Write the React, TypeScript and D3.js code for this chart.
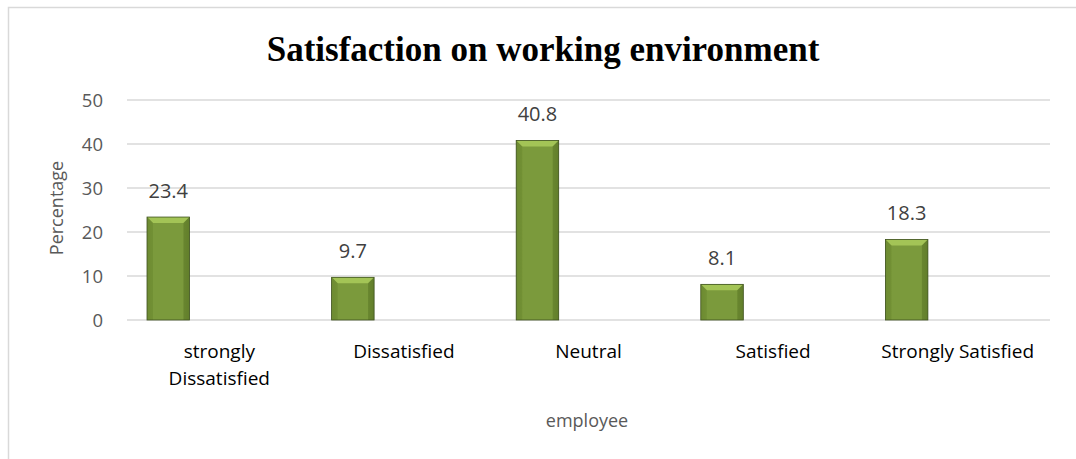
import React from "react";
import * as d3 from "d3";

const categories: string[][] = [
  ["strongly", "Dissatisfied"],
  ["Dissatisfied"],
  ["Neutral"],
  ["Satisfied"],
  ["Strongly Satisfied"],
];
const values: number[] = [23.4, 9.7, 40.8, 8.1, 18.3];
const yTicks: number[] = [0, 10, 20, 30, 40, 50];
const title = "Satisfaction on working environment";
const yTitle = "Percentage";
const xTitle = "employee";

const W = 1076;
const H = 459;
const plot = { left: 127, right: 1050, top: 100, bottom: 320 };
const FONT = "'Open Sans', Lato, sans-serif";

export default function App() {
  const x = d3
    .scaleBand<number>()
    .domain(values.map((_, i) => i))
    .range([plot.left, plot.right]);
  const y = d3.scaleLinear().domain([0, 50]).range([plot.bottom, plot.top]);
  const barW = 42.5;
  const barOff = 20;
  const bev = 6;

  return (
    <svg
      width={W}
      height={H}
      style={{ position: "absolute", left: 0, top: 0, display: "block", background: "#fff" }}
    >
      <defs>
        <linearGradient id="face" x1="0" x2="1" y1="0" y2="0">
          <stop offset="0" stopColor="#6f8c34" />
          <stop offset="0.15" stopColor="#7b9a3c" />
          <stop offset="0.85" stopColor="#7b9a3c" />
          <stop offset="1" stopColor="#6a8630" />
        </linearGradient>
      </defs>
      <rect x={8.5} y={7.5} width={W + 10} height={H + 10} fill="#fff" stroke="#d9d9d9" strokeWidth={1.5} />
      <text
        x={543}
        y={61}
        textAnchor="middle"
        fontFamily="'Liberation Serif', 'Times New Roman', serif"
        fontWeight="bold"
        fontSize={35}
        fill="#000"
      >
        {title}
      </text>
      {yTicks.map((t) => (
        <g key={t}>
          <line x1={plot.left} x2={plot.right} y1={y(t)} y2={y(t)} stroke="#d9d9d9" strokeWidth={1.5} />
          <text x={103} y={y(t) + 7} textAnchor="end" fontFamily={FONT} fontSize={18.5} fill="#595959">
            {t}
          </text>
        </g>
      ))}
      <text
        transform={`translate(63,208) rotate(-90)`}
        textAnchor="middle"
        fontFamily={FONT}
        fontSize={18}
        fill="#595959"
      >
        {yTitle}
      </text>
      {values.map((v, i) => {
        const x0 = (x(i) as number) + barOff;
        const x1 = x0 + barW;
        const yt = y(v);
        const yb = y(0);
        return (
          <g key={i}>
            <rect x={x0} y={yt} width={barW} height={yb - yt} fill="url(#face)" />
            <polygon
              points={`${x0},${yt} ${x1},${yt} ${x1 - bev},${yt + bev} ${x0 + bev},${yt + bev}`}
              fill="#a3c456"
            />
            <polygon
              points={`${x0},${yt} ${x0 + bev},${yt + bev} ${x0 + bev},${yb} ${x0},${yb}`}
              fill="#6c8a30"
              opacity={0.6}
            />
            <polygon
              points={`${x1},${yt} ${x1 - bev},${yt + bev} ${x1 - bev},${yb} ${x1},${yb}`}
              fill="#5d7a28"
              opacity={0.6}
            />
            <rect x={x0} y={yt} width={barW} height={yb - yt} fill="none" stroke="#3f5220" strokeWidth={0.8} />
            <text
              x={(x0 + x1) / 2}
              y={yt - 19}
              textAnchor="middle"
              fontFamily={FONT}
              fontSize={20}
              fill="#404040"
            >
              {v}
            </text>
          </g>
        );
      })}
      {categories.map((lines, i) => {
        const cx = (x(i) as number) + x.bandwidth() / 2;
        return (
          <text key={i} x={cx} y={358} textAnchor="middle" fontFamily={FONT} fontSize={19} fill="#000">
            {lines.map((l, j) => (
              <tspan key={j} x={cx} dy={j === 0 ? 0 : 27}>
                {l}
              </tspan>
            ))}
          </text>
        );
      })}
      <text x={587} y={427} textAnchor="middle" fontFamily={FONT} fontSize={18} fill="#595959">
        {xTitle}
      </text>
    </svg>
  );
}
